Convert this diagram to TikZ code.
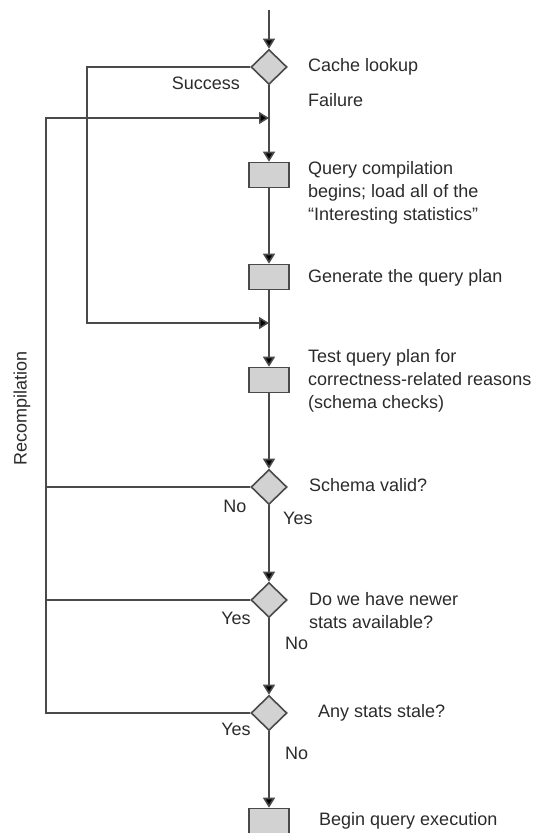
\documentclass[tikz,border=0pt]{standalone}
\usepackage{fontspec}
\setmainfont{Liberation Sans}
\usetikzlibrary{shapes.geometric,arrows.meta}

\definecolor{linegray}{HTML}{4A4A4A}
\definecolor{fillgray}{HTML}{D2D2D2}
\definecolor{textgray}{HTML}{2B2B2B}

\begin{document}
\begin{tikzpicture}[x=1pt,y=-1pt,
  flow/.style={draw=linegray,line width=1.6pt},
  arr/.style={flow,-{Triangle[length=10pt,width=12pt,fill=black]}},
  decision/.style={diamond,draw=linegray,line width=1.6pt,fill=fillgray,
    minimum width=36pt,minimum height=35pt,inner sep=0pt,shape aspect=1},
  stepbox/.style={rectangle,draw=linegray,line width=1.6pt,fill=fillgray,
    minimum width=40pt,minimum height=25pt,inner sep=0pt},
  lbl/.style={text=textgray,font=\fontsize{18}{23}\selectfont,inner sep=0pt},
  desc/.style={lbl,anchor=west,align=left}]

\useasboundingbox (0,0) rectangle (538,833);
\clip (0,0) rectangle (538,833);

% main column
\coordinate (start) at (269,10);
\node[decision] (cache)  at (269,67)  {};
\coordinate (rejoin) at (269,118);
\node[stepbox]  (compile) at (269,175) {};
\node[stepbox]  (plan)    at (269,277) {};
\coordinate (hit) at (269,323);
\node[stepbox]  (test)    at (269,380) {};
\node[decision] (schema) at (269,487) {};
\node[decision] (newer)  at (269,600) {};
\node[decision] (stale)  at (269,713) {};
\node[stepbox]  (exec)    at (269,821) {};

% side rails
\coordinate (successrail) at (87,67);
\coordinate (recomprail)  at (46,118);

% main flow
\draw[arr] (start) -- (cache.north);
\draw[arr] (cache.south) -- (compile.north);
\draw[arr] (compile.south) -- (plan.north);
\draw[arr] (plan.south) -- (test.north);
\draw[arr] (test.south) -- (schema.north);
\draw[arr] (schema.south) -- (newer.north);
\draw[arr] (newer.south) -- (stale.north);
\draw[arr] (stale.south) -- (exec.north);

% cache hit skips compilation
\draw[arr] (cache.west) -- (successrail) |- (hit);

% recompilation loop
\draw[flow] (schema.west) -- (schema.west -| recomprail);
\draw[flow] (newer.west) -- (newer.west -| recomprail);
\draw[arr] (stale.west) -- (stale.west -| recomprail) -- (recomprail) -- (rejoin);

% descriptions
\node[desc] (tcache)   at (308,67)  {Cache lookup};
\node[desc] (tfail)    at (308,100) {Failure};
\node[lbl,anchor=east] (tsucc) at (240,83) {Success};
\node[desc] (tcompile) at (308,193) {Query compilation\\begins; load all of the\\“Interesting statistics”};
\node[desc] (tplan)    at (308,278) {Generate the query plan};
\node[desc] (ttest)    at (308,381) {Test query plan for\\correctness-related reasons\\(schema checks)};
\node[desc] (tschema)  at (309,485) {Schema valid?};
\node[desc] (tnewer)   at (309,611) {Do we have newer\\stats available?};
\node[desc] (tstale)   at (318,713) {Any stats stale?};
\node[desc] (texec)    at (319,821) {Begin query execution};

% branch labels
\node[lbl] (sno)   at (235,506) {No};
\node[desc] (syes) at (283,518) {Yes};
\node[lbl] (nyes)  at (236,618) {Yes};
\node[desc] (nno)  at (285,643) {No};
\node[lbl] (syes2) at (236,729) {Yes};
\node[desc] (sno2) at (285,753) {No};

\node[lbl,rotate=90] (trecomp) at (22,408) {Recompilation};
\end{tikzpicture}
\end{document}
